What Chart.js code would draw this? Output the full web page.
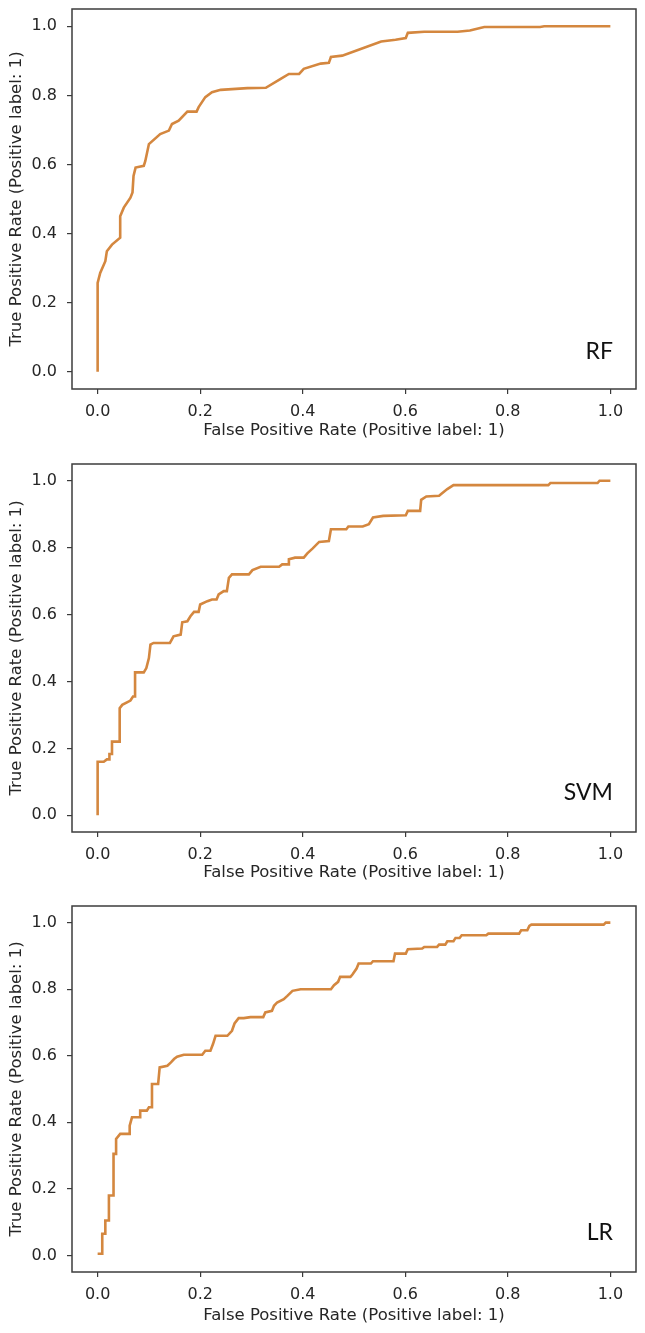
<!DOCTYPE html>
<html><head><meta charset="utf-8">
<script src="https://cdn.jsdelivr.net/npm/chart.js@4"></script>
<style>
html,body{margin:0;padding:0;background:#fff;}
body{width:645px;height:1333px;position:relative;overflow:hidden;}
canvas{position:absolute;left:0;}
</style>
</head><body>
<canvas id="c0" width="645" height="445" style="top:0px"></canvas>
<canvas id="c1" width="645" height="442" style="top:445px"></canvas>
<canvas id="c2" width="645" height="445" style="top:885px"></canvas>
<script>
// ---------- data ----------
const tickValues = [0, 0.2, 0.4, 0.6, 0.8, 1.0];
const modelNames = ['RF', 'SVM', 'LR'];
const xTitle = 'False Positive Rate (Positive label: 1)';
const yTitle = 'True Positive Rate (Positive label: 1)';

const rfFpr = [0,0,0.005,0.015,0.018,0.028,0.044,0.044,0.051,0.064,0.068,0.070,0.074,0.090,0.093,0.100,0.122,0.139,0.145,0.158,0.175,0.193,0.197,0.210,0.223,0.240,0.292,0.328,0.357,0.373,0.393,0.402,0.435,0.451,0.455,0.477,0.509,0.553,0.581,0.601,0.605,0.637,0.702,0.726,0.754,0.863,0.871,1.0];
const rfTpr = [0,0.257,0.286,0.320,0.349,0.368,0.388,0.450,0.475,0.504,0.519,0.567,0.591,0.596,0.610,0.659,0.688,0.698,0.717,0.727,0.753,0.753,0.766,0.795,0.809,0.816,0.821,0.822,0.848,0.862,0.862,0.877,0.892,0.894,0.911,0.915,0.932,0.956,0.961,0.966,0.981,0.984,0.984,0.988,0.998,0.998,1.0,1.0];

const svmFpr = [0,0,0.012,0.018,0.023,0.023,0.028,0.028,0.043,0.043,0.048,0.064,0.069,0.073,0.073,0.090,0.095,0.100,0.103,0.109,0.141,0.148,0.162,0.165,0.175,0.181,0.188,0.197,0.200,0.214,0.223,0.232,0.236,0.246,0.252,0.256,0.262,0.295,0.302,0.318,0.354,0.360,0.373,0.373,0.385,0.402,0.409,0.419,0.432,0.451,0.455,0.485,0.489,0.517,0.529,0.537,0.557,0.601,0.605,0.629,0.631,0.641,0.666,0.670,0.682,0.694,0.879,0.883,0.975,0.979,1.0];
const svmTpr = [0,0.160,0.160,0.167,0.167,0.183,0.183,0.220,0.220,0.320,0.330,0.343,0.355,0.355,0.427,0.427,0.440,0.470,0.510,0.515,0.515,0.535,0.540,0.577,0.580,0.595,0.608,0.608,0.630,0.640,0.645,0.645,0.660,0.670,0.670,0.710,0.720,0.720,0.733,0.743,0.743,0.750,0.750,0.765,0.770,0.770,0.783,0.797,0.817,0.820,0.855,0.855,0.863,0.863,0.870,0.890,0.895,0.897,0.910,0.910,0.943,0.953,0.955,0.960,0.975,0.987,0.987,0.993,0.993,1.0,1.0];

const lrFpr = [0,0.009,0.009,0.015,0.015,0.022,0.022,0.031,0.031,0.036,0.036,0.044,0.0625,0.0625,0.067,0.083,0.083,0.096,0.100,0.106,0.106,0.118,0.121,0.136,0.143,0.149,0.155,0.168,0.204,0.210,0.220,0.225,0.230,0.253,0.262,0.267,0.275,0.285,0.298,0.323,0.327,0.340,0.344,0.350,0.363,0.370,0.380,0.396,0.455,0.461,0.469,0.473,0.493,0.497,0.505,0.509,0.533,0.537,0.577,0.580,0.601,0.605,0.633,0.637,0.662,0.666,0.678,0.682,0.694,0.698,0.706,0.710,0.758,0.762,0.822,0.826,0.838,0.842,0.846,0.987,0.991,1.0];
const lrTpr = [0.005,0.005,0.065,0.065,0.105,0.105,0.180,0.180,0.305,0.305,0.350,0.365,0.365,0.390,0.415,0.415,0.435,0.435,0.445,0.445,0.515,0.515,0.565,0.570,0.580,0.590,0.597,0.603,0.603,0.615,0.615,0.635,0.660,0.660,0.675,0.697,0.713,0.713,0.716,0.716,0.730,0.735,0.750,0.760,0.770,0.780,0.795,0.800,0.800,0.812,0.822,0.837,0.837,0.844,0.862,0.877,0.877,0.884,0.884,0.907,0.907,0.920,0.922,0.927,0.927,0.934,0.934,0.944,0.944,0.954,0.954,0.962,0.962,0.967,0.967,0.977,0.977,0.990,0.994,0.994,1.0,1.0];

const seriesFpr = [rfFpr, svmFpr, lrFpr];
const seriesTpr = [rfTpr, svmTpr, lrTpr];

// ---------- layout / style ----------
const panels = [
  {id:'c0', height:445, chartTop:9,  chartBottom:389, labelY:0.057},
  {id:'c1', height:442, chartTop:19, chartBottom:387, labelY:0.069},
  {id:'c2', height:445, chartTop:21, chartBottom:387, labelY:0.069}
];
const lineColor = '#d4873f';
const textColor = '#262626';
const tickFont = {family:'DejaVu Sans', size:16, lineHeight:1.2};
const titleFont = {family:'DejaVu Sans', size:16.5, lineHeight:1.2};

const framePlugin = {
  id:'frameAndLabel',
  afterDatasetsDraw(chart, args, opts){
    const {ctx, chartArea:a} = chart;
    ctx.save();
    ctx.strokeStyle = '#3d3d3d';
    ctx.lineWidth = 1.5;
    ctx.strokeRect(a.left, a.top, a.right - a.left, a.bottom - a.top);
    ctx.font = '23px Lato, "Open Sans", sans-serif';
    ctx.fillStyle = '#111';
    ctx.textAlign = 'right';
    ctx.textBaseline = 'middle';
    ctx.fillText(opts.label, chart.scales.x.getPixelForValue(1.005), chart.scales.y.getPixelForValue(opts.labelY));
    ctx.restore();
  }
};

panels.forEach((p, i) => {
  const pts = seriesFpr[i].map((x, k) => ({x: x, y: seriesTpr[i][k]}));
  new Chart(document.getElementById(p.id), {
    type:'line',
    data:{datasets:[{data:pts, borderColor:lineColor, borderWidth:2.6, pointRadius:0, tension:0, fill:false}]},
    options:{
      responsive:false, animation:false, devicePixelRatio:1,
      layout:{padding:{left:0, right:9, top:p.chartTop, bottom:0}},
      plugins:{legend:{display:false}, tooltip:{enabled:false},
        frameAndLabel:{label:modelNames[i], labelY:p.labelY}},
      scales:{
        x:{type:'linear', min:-0.05, max:1.05,
          afterBuildTicks:s => { s.ticks = tickValues.map(v => ({value:v})); },
          afterFit:s => { s.height = p.height - p.chartBottom; s.paddingLeft = 0; s.paddingRight = 0; },
          grid:{drawOnChartArea:false, drawTicks:true, tickLength:5, color:'#3a3a3a', lineWidth:1.2},
          border:{display:false},
          ticks:{font:tickFont, color:textColor, padding:8, maxRotation:0, autoSkip:false, callback:v => Number(v).toFixed(1)},
          title:{display:true, text:xTitle, font:titleFont, color:textColor, padding:{top:0, bottom:4.1}}
        },
        y:{type:'linear', min:-0.05, max:1.05,
          afterBuildTicks:s => { s.ticks = tickValues.map(v => ({value:v})); },
          afterFit:s => { s.width = 72; s.paddingTop = 0; s.paddingBottom = 0; },
          grid:{drawOnChartArea:false, drawTicks:true, tickLength:5, color:'#3a3a3a', lineWidth:1.2},
          border:{display:false},
          ticks:{font:tickFont, color:textColor, padding:10, autoSkip:false, callback:v => Number(v).toFixed(1)},
          title:{display:true, text:yTitle, font:titleFont, color:textColor, padding:{top:7.1, bottom:0}}
        }
      }
    },
    plugins:[framePlugin]
  });
});
</script>
</body></html>
